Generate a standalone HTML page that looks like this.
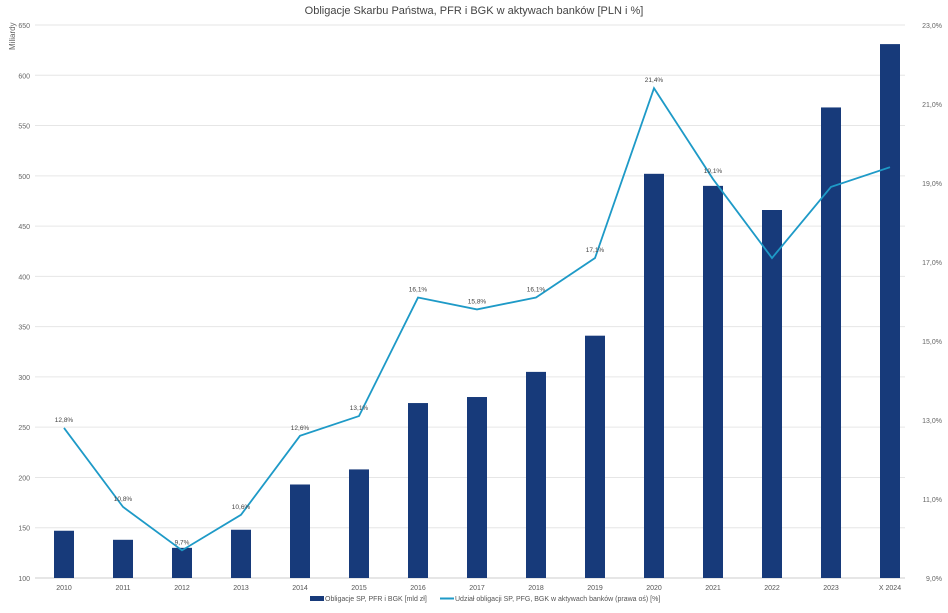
<!DOCTYPE html>
<html><head><meta charset="utf-8"><style>
body{margin:0;background:#fff;font-family:"Liberation Sans",sans-serif}
svg text{font-family:"Liberation Sans",sans-serif}
</style></head><body>
<svg id="chart" width="948" height="608" xmlns="http://www.w3.org/2000/svg">
<text x="474" y="14" text-anchor="middle" font-size="11" fill="#444">Obligacje Skarbu Państwa, PFR i BGK w aktywach banków [PLN i %]</text>
<text transform="translate(15,50) rotate(-90)" font-size="8" fill="#666">Miliardy</text>
<g id="grid"></g><g id="bars"></g><g id="line"></g><g id="labels"></g>
<g>
<rect x="310" y="596" width="14" height="5" fill="#173a7a"/>
<text x="325" y="601" font-size="7" fill="#555">Obligacje SP, PFR i BGK [mld zł]</text>
<line x1="440" y1="598.5" x2="454" y2="598.5" stroke="#1e9ac7" stroke-width="2"/>
<text x="455" y="601" font-size="7" fill="#555">Udział obligacji SP, PFG, BGK w aktywach banków (prawa oś) [%]</text>
</g>
</svg>
<script>
const categories=["2010","2011","2012","2013","2014","2015","2016","2017","2018","2019","2020","2021","2022","2023","X 2024"];
const barValues=[147,138,130,148,193,208,274,280,305,341,502,490,466,568,631];
const shareValues=[12.8,10.8,9.7,10.6,12.6,13.1,16.1,15.8,16.1,17.1,21.4,19.1,17.1,18.9,19.4];
const shareLabels=["12,8%","10,8%","9,7%","10,6%","12,6%","13,1%","16,1%","15,8%","16,1%","17,1%","21,4%","19,1%","","",""];
const leftTicks=[100,150,200,250,300,350,400,450,500,550,600,650];
const rightTicks=[9,11,13,15,17,19,21,23];
const NS="http://www.w3.org/2000/svg";
const top0=25,bot=578;
function yL(v){return top0+(650-v)*(bot-top0)/550;}
function yR(p){return top0+(23-p)*(bot-top0)/14;}
function xC(i){return 64+i*59;}
function mk(t,a,p,txt){const e=document.createElementNS(NS,t);for(const k in a)e.setAttribute(k,a[k]);if(txt!==undefined)e.textContent=txt;p.appendChild(e);return e;}
const grid=document.getElementById('grid');
leftTicks.forEach(v=>{
 const l=mk('line',{x1:35,x2:905,y1:yL(v),y2:yL(v),stroke:v===100?'#ccc':'#e6e6e6','stroke-width':1},grid);
 
 
 const t=mk('text',{x:30,y:yL(v)+3,'text-anchor':'end','font-size':7,fill:'#666'},grid,String(v));
 
 
});
rightTicks.forEach(p=>{
 const t=mk('text',{x:942,y:yR(p)+3,'text-anchor':'end','font-size':7,fill:'#666'},grid,p.toFixed(1).replace('.',',')+'%');
 
 
});
const bars=document.getElementById('bars');
barValues.forEach((v,i)=>{
 const r=mk('rect',{x:xC(i)-10,y:yL(v),width:20,height:yL(100)-yL(v),fill:'#173a7a'},bars);
 
 
 const t=mk('text',{x:xC(i),y:590,'text-anchor':'middle','font-size':7,fill:'#555'},bars,categories[i]);
 
 
});
const lg=document.getElementById('line');
const pl=mk('polyline',{points:shareValues.map((p,i)=>xC(i)+','+yR(p)).join(' '),fill:'none',stroke:'#1e9ac7','stroke-width':1.8},lg);


const lb=document.getElementById('labels');
shareValues.forEach((p,i)=>{
 if(!shareLabels[i])return;
 const t=mk('text',{x:xC(i),y:yR(p)-6,'text-anchor':'middle','font-size':6.5,fill:'#444'},lb,shareLabels[i]);
 
 
});
</script>
</body></html>
